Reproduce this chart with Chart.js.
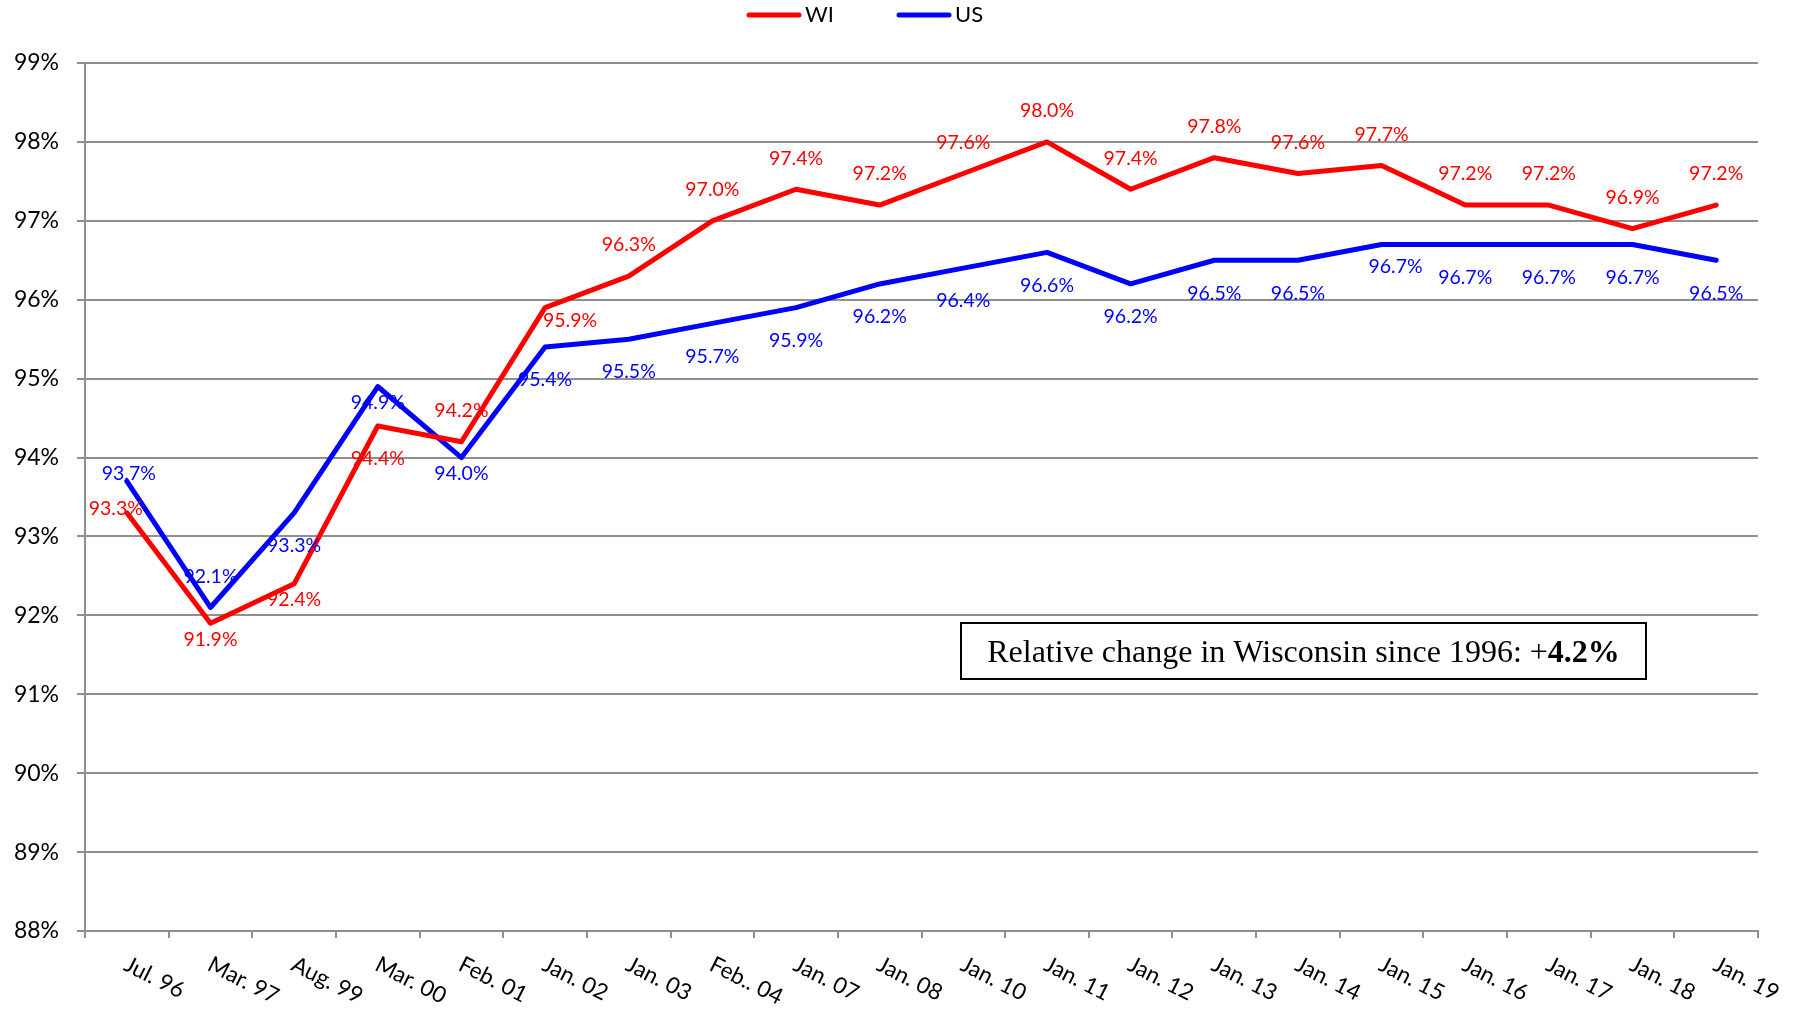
<!DOCTYPE html>
<html>
<head>
<meta charset="utf-8">
<script src="https://cdn.jsdelivr.net/npm/chart.js@4"></script>
<style>
  html, body { margin: 0; padding: 0; background: #fff; }
</style>
</head>
<body>
<canvas id="grafico" width="1797" height="1010"></canvas>
<script>
const categorias = ["Jul. 96", "Mar. 97", "Aug. 99", "Mar. 00", "Feb. 01", "Jan. 02", "Jan. 03", "Feb.. 04",
  "Jan. 07", "Jan. 08", "Jan. 10", "Jan. 11", "Jan. 12", "Jan. 13", "Jan. 14", "Jan. 15",
  "Jan. 16", "Jan. 17", "Jan. 18", "Jan. 19"];
const valoresWI = [93.3, 91.9, 92.4, 94.4, 94.2, 95.9, 96.3, 97.0, 97.4, 97.2, 97.6, 98.0, 97.4, 97.8, 97.6, 97.7, 97.2, 97.2, 96.9, 97.2];
const valoresUS = [93.7, 92.1, 93.3, 94.9, 94.0, 95.4, 95.5, 95.7, 95.9, 96.2, 96.4, 96.6, 96.2, 96.5, 96.5, 96.7, 96.7, 96.7, 96.7, 96.5];
const eixoMin = 88;
const eixoMax = 99;
const textoCaixa = "Relative change in Wisconsin since 1996: +";
const textoCaixaNegrito = "4.2%";

// where each value label sits relative to its point
const posWI = ["l", "bs", "bs", "b", "a", "br", "a", "a", "a", "a", "a", "a", "a", "a", "a", "a", "a", "a", "a", "a"];
const posUS = ["c", "a", "b", "bs", "bs", "b", "b", "b", "b", "b", "b", "b", "b", "b", "b", "bsr", "b", "b", "b", "b"];
const desloc = { a: [0, -31], b: [0, 33], bs: [0, 16], br: [25, 13], bsr: [14, 22], l: [-11, -4], c: [2, -7] };

const fonte = "Lato, 'Noto Sans', sans-serif";
const cinza = "#8f8f8f";

const rotulos = {
  id: "rotulos",
  afterDatasetsDraw(chart) {
    const ctx = chart.ctx;
    ctx.save();
    ctx.font = "19.5px " + fonte;
    ctx.textAlign = "center";
    ctx.textBaseline = "middle";
    chart.data.datasets.forEach((ds, i) => {
      const meta = chart.getDatasetMeta(i);
      const pos = i === 0 ? posWI : posUS;
      meta.data.forEach((pt, j) => {
        const d = desloc[pos[j]];
        ctx.fillStyle = ds.borderColor;
        ctx.fillText(ds.data[j].toFixed(1) + "%", pt.x + d[0], pt.y + d[1]);
      });
    });
    ctx.restore();
  },
  afterDraw(chart) {
    const ctx = chart.ctx;
    const escalaX = chart.scales.x;

    // x labels, turned clockwise
    ctx.save();
    ctx.font = "22.5px " + fonte;
    ctx.fillStyle = "#000";
    ctx.textAlign = "left";
    ctx.textBaseline = "top";
    categorias.forEach((c, i) => {
      const x = escalaX.getPixelForValue(i);
      ctx.save();
      ctx.translate(x + 4, escalaX.top + 22);
      ctx.rotate(27 * Math.PI / 180);
      ctx.fillText(c, 0, 0);
      ctx.restore();
    });
    ctx.restore();

    // legend
    ctx.save();
    ctx.font = "22px " + fonte;
    ctx.textBaseline = "middle";
    ctx.lineCap = "round";
    ctx.lineWidth = 5;
    const inicios = [749, 899];
    chart.data.datasets.forEach((ds, i) => {
      const x0 = inicios[i];
      ctx.strokeStyle = ds.borderColor;
      ctx.beginPath();
      ctx.moveTo(x0, 15);
      ctx.lineTo(x0 + 50, 15);
      ctx.stroke();
      ctx.fillStyle = "#000";
      ctx.fillText(ds.label, x0 + 56, 15);
    });
    ctx.restore();

    // text box
    const area = chart.chartArea;
    const bx = area.left + 876, by = 623, bw = 685, bh = 56;
    ctx.save();
    ctx.fillStyle = "#fff";
    ctx.fillRect(bx, by, bw, bh);
    ctx.strokeStyle = "#000";
    ctx.lineWidth = 2;
    ctx.strokeRect(bx, by, bw, bh);
    ctx.fillStyle = "#000";
    ctx.textBaseline = "middle";
    ctx.font = "32px 'Liberation Serif', serif";
    const w1 = ctx.measureText(textoCaixa).width;
    ctx.font = "bold 32px 'Liberation Serif', serif";
    const w2 = ctx.measureText(textoCaixaNegrito).width;
    const tx = bx + (bw - w1 - w2) / 2;
    ctx.font = "32px 'Liberation Serif', serif";
    ctx.fillText(textoCaixa, tx, by + bh / 2 + 3);
    ctx.font = "bold 32px 'Liberation Serif', serif";
    ctx.fillText(textoCaixaNegrito, tx + w1, by + bh / 2 + 3);
    ctx.restore();
  }
};

const ctx = document.getElementById("grafico").getContext("2d");
new Chart(ctx, {
  type: "line",
  data: {
    labels: categorias,
    datasets: [
      { label: "WI", data: valoresWI, borderColor: "#ff0000", backgroundColor: "#ff0000" },
      { label: "US", data: valoresUS, borderColor: "#0000ff", backgroundColor: "#0000ff" }
    ]
  },
  options: {
    responsive: false,
    animation: false,
    devicePixelRatio: 1,
    layout: { padding: { top: 63, right: 39, left: 0, bottom: 0 } },
    elements: {
      line: { borderWidth: 5, tension: 0, borderJoinStyle: "round", borderCapStyle: "round" },
      point: { radius: 0, hoverRadius: 0 }
    },
    plugins: {
      legend: { display: false },
      tooltip: { enabled: false }
    },
    scales: {
      x: {
        offset: true,
        grid: { offset: true, drawOnChartArea: false, drawTicks: true, tickLength: 7, color: cinza, lineWidth: 2 },
        border: { display: true, color: cinza, width: 2 },
        ticks: { display: false },
        afterFit(scale) { scale.height = 79; }
      },
      y: {
        min: eixoMin,
        max: eixoMax,
        grid: { color: cinza, lineWidth: 2, drawTicks: true, tickLength: 8 },
        border: { display: true, color: cinza, width: 2 },
        ticks: {
          stepSize: 1,
          padding: 18,
          color: "#000",
          font: { family: fonte, size: 23 },
          callback: v => v + "%"
        },
        afterFit(scale) { scale.width = 85; }
      }
    }
  },
  plugins: [rotulos]
});
</script>
</body>
</html>
